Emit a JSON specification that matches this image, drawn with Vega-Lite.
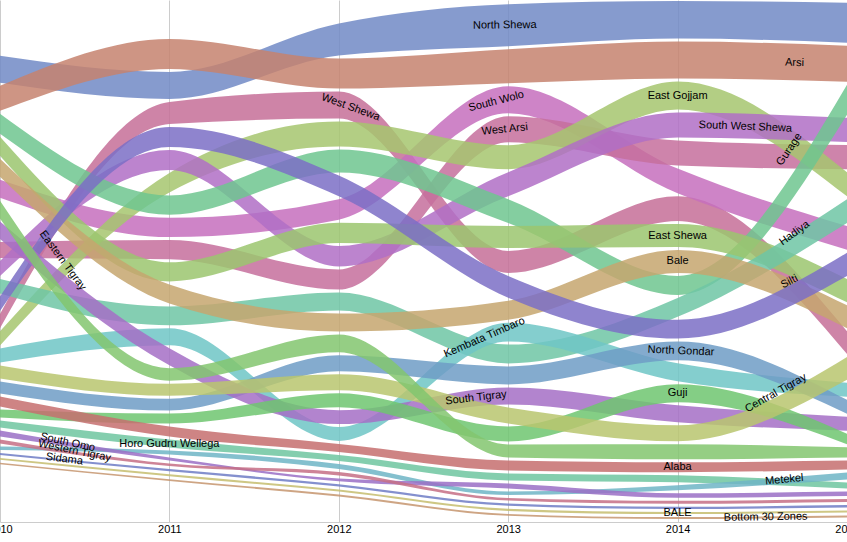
{
  "$schema": "https://vega.github.io/schema/vega-lite/v6.json",
  "width": 847,
  "height": 522,
  "autosize": {"type": "none"},
  "padding": {"left": 0, "top": 0, "right": 0, "bottom": 20},
  "background": "white",
  "config": {"view": {"stroke": null}, "font": "Liberation Sans"},
  "datasets": {
    "zones": [
      {"zone": "North Shewa", "year": 2010, "value": 27}, {"zone": "North Shewa", "year": 2011, "value": 27}, {"zone": "North Shewa", "year": 2012, "value": 32}, {"zone": "North Shewa", "year": 2013, "value": 42}, {"zone": "North Shewa", "year": 2014, "value": 37.5}, {"zone": "North Shewa", "year": 2015, "value": 40},
      {"zone": "Arsi", "year": 2010, "value": 25}, {"zone": "Arsi", "year": 2011, "value": 30}, {"zone": "Arsi", "year": 2012, "value": 30}, {"zone": "Arsi", "year": 2013, "value": 34}, {"zone": "Arsi", "year": 2014, "value": 37}, {"zone": "Arsi", "year": 2015, "value": 36},
      {"zone": "West Shewa", "year": 2010, "value": 14.3}, {"zone": "West Shewa", "year": 2011, "value": 22}, {"zone": "West Shewa", "year": 2012, "value": 27}, {"zone": "West Shewa", "year": 2013, "value": 21.9}, {"zone": "West Shewa", "year": 2014, "value": 24.7}, {"zone": "West Shewa", "year": 2015, "value": 22.8},
      {"zone": "South Wolo", "year": 2010, "value": 17.9}, {"zone": "South Wolo", "year": 2011, "value": 19.3}, {"zone": "South Wolo", "year": 2012, "value": 20.5}, {"zone": "South Wolo", "year": 2013, "value": 27}, {"zone": "South Wolo", "year": 2014, "value": 24.8}, {"zone": "South Wolo", "year": 2015, "value": 23.6},
      {"zone": "West Arsi", "year": 2010, "value": 16}, {"zone": "West Arsi", "year": 2011, "value": 19.2}, {"zone": "West Arsi", "year": 2012, "value": 20.2}, {"zone": "West Arsi", "year": 2013, "value": 26}, {"zone": "West Arsi", "year": 2014, "value": 24.9}, {"zone": "West Arsi", "year": 2015, "value": 24.2},
      {"zone": "East Gojjam", "year": 2010, "value": 14.2}, {"zone": "East Gojjam", "year": 2011, "value": 19.5}, {"zone": "East Gojjam", "year": 2012, "value": 25}, {"zone": "East Gojjam", "year": 2013, "value": 24}, {"zone": "East Gojjam", "year": 2014, "value": 28}, {"zone": "East Gojjam", "year": 2015, "value": 24},
      {"zone": "South West Shewa", "year": 2010, "value": 15}, {"zone": "South West Shewa", "year": 2011, "value": 19.9}, {"zone": "South West Shewa", "year": 2012, "value": 20.3}, {"zone": "South West Shewa", "year": 2013, "value": 23.9}, {"zone": "South West Shewa", "year": 2014, "value": 25}, {"zone": "South West Shewa", "year": 2015, "value": 24.4},
      {"zone": "Gurage", "year": 2010, "value": 20}, {"zone": "Gurage", "year": 2011, "value": 19.4}, {"zone": "Gurage", "year": 2012, "value": 23}, {"zone": "Gurage", "year": 2013, "value": 23.8}, {"zone": "Gurage", "year": 2014, "value": 19}, {"zone": "Gurage", "year": 2015, "value": 30},
      {"zone": "East Shewa", "year": 2010, "value": 19}, {"zone": "East Shewa", "year": 2011, "value": 19.1}, {"zone": "East Shewa", "year": 2012, "value": 20.4}, {"zone": "East Shewa", "year": 2013, "value": 22}, {"zone": "East Shewa", "year": 2014, "value": 23}, {"zone": "East Shewa", "year": 2015, "value": 23.2},
      {"zone": "Hadiya", "year": 2010, "value": 14.5}, {"zone": "Hadiya", "year": 2011, "value": 18.9}, {"zone": "Hadiya", "year": 2012, "value": 18}, {"zone": "Hadiya", "year": 2013, "value": 18.8}, {"zone": "Hadiya", "year": 2014, "value": 18.9}, {"zone": "Hadiya", "year": 2015, "value": 23.8},
      {"zone": "Bale", "year": 2010, "value": 18}, {"zone": "Bale", "year": 2011, "value": 19}, {"zone": "Bale", "year": 2012, "value": 17.9}, {"zone": "Bale", "year": 2013, "value": 19}, {"zone": "Bale", "year": 2014, "value": 22.9}, {"zone": "Bale", "year": 2015, "value": 23},
      {"zone": "Silti", "year": 2010, "value": 14.4}, {"zone": "Silti", "year": 2011, "value": 20}, {"zone": "Silti", "year": 2012, "value": 20.6}, {"zone": "Silti", "year": 2013, "value": 21.8}, {"zone": "Silti", "year": 2014, "value": 18.8}, {"zone": "Silti", "year": 2015, "value": 23.4},
      {"zone": "Kembata Timbaro", "year": 2010, "value": 14}, {"zone": "Kembata Timbaro", "year": 2011, "value": 17}, {"zone": "Kembata Timbaro", "year": 2012, "value": 13.8}, {"zone": "Kembata Timbaro", "year": 2013, "value": 18.9}, {"zone": "Kembata Timbaro", "year": 2014, "value": 18}, {"zone": "Kembata Timbaro", "year": 2015, "value": 14.1},
      {"zone": "North Gondar", "year": 2010, "value": 12}, {"zone": "North Gondar", "year": 2011, "value": 11.9}, {"zone": "North Gondar", "year": 2012, "value": 16}, {"zone": "North Gondar", "year": 2013, "value": 18}, {"zone": "North Gondar", "year": 2014, "value": 18.7}, {"zone": "North Gondar", "year": 2015, "value": 14},
      {"zone": "South Tigray", "year": 2010, "value": 17.5}, {"zone": "South Tigray", "year": 2011, "value": 16.9}, {"zone": "South Tigray", "year": 2012, "value": 13.9}, {"zone": "South Tigray", "year": 2013, "value": 17}, {"zone": "South Tigray", "year": 2014, "value": 17}, {"zone": "South Tigray", "year": 2015, "value": 13.9},
      {"zone": "Guji", "year": 2010, "value": 8}, {"zone": "Guji", "year": 2011, "value": 10}, {"zone": "Guji", "year": 2012, "value": 14}, {"zone": "Guji", "year": 2013, "value": 15}, {"zone": "Guji", "year": 2014, "value": 17.9}, {"zone": "Guji", "year": 2015, "value": 10.5},
      {"zone": "Central Tigray", "year": 2010, "value": 13}, {"zone": "Central Tigray", "year": 2011, "value": 12}, {"zone": "Central Tigray", "year": 2012, "value": 15.9}, {"zone": "Central Tigray", "year": 2013, "value": 16}, {"zone": "Central Tigray", "year": 2014, "value": 16}, {"zone": "Central Tigray", "year": 2015, "value": 22.6},
      {"zone": "Eastern Tigray", "year": 2010, "value": 17.8}, {"zone": "Eastern Tigray", "year": 2011, "value": 12.5}, {"zone": "Eastern Tigray", "year": 2012, "value": 17.8}, {"zone": "Eastern Tigray", "year": 2013, "value": 13}, {"zone": "Eastern Tigray", "year": 2014, "value": 15}, {"zone": "Eastern Tigray", "year": 2015, "value": 10.4},
      {"zone": "Alaba", "year": 2010, "value": 10}, {"zone": "Alaba", "year": 2011, "value": 9.9}, {"zone": "Alaba", "year": 2012, "value": 8}, {"zone": "Alaba", "year": 2013, "value": 10}, {"zone": "Alaba", "year": 2014, "value": 10}, {"zone": "Alaba", "year": 2015, "value": 9},
      {"zone": "Horo Gudru Wellega", "year": 2010, "value": 7}, {"zone": "Horo Gudru Wellega", "year": 2011, "value": 8}, {"zone": "Horo Gudru Wellega", "year": 2012, "value": 6}, {"zone": "Horo Gudru Wellega", "year": 2013, "value": 7}, {"zone": "Horo Gudru Wellega", "year": 2014, "value": 7}, {"zone": "Horo Gudru Wellega", "year": 2015, "value": 6},
      {"zone": "Metekel", "year": 2010, "value": 3.5}, {"zone": "Metekel", "year": 2011, "value": 4}, {"zone": "Metekel", "year": 2012, "value": 5}, {"zone": "Metekel", "year": 2013, "value": 3.5}, {"zone": "Metekel", "year": 2014, "value": 5}, {"zone": "Metekel", "year": 2015, "value": 7},
      {"zone": "South Omo", "year": 2010, "value": 6}, {"zone": "South Omo", "year": 2011, "value": 3}, {"zone": "South Omo", "year": 2012, "value": 2.8}, {"zone": "South Omo", "year": 2013, "value": 5}, {"zone": "South Omo", "year": 2014, "value": 4.5}, {"zone": "South Omo", "year": 2015, "value": 4.5},
      {"zone": "Western Tigray", "year": 2010, "value": 4}, {"zone": "Western Tigray", "year": 2011, "value": 2.6}, {"zone": "Western Tigray", "year": 2012, "value": 3.5}, {"zone": "Western Tigray", "year": 2013, "value": 2.6}, {"zone": "Western Tigray", "year": 2014, "value": 3}, {"zone": "Western Tigray", "year": 2015, "value": 3},
      {"zone": "Sidama", "year": 2010, "value": 2}, {"zone": "Sidama", "year": 2011, "value": 2.2}, {"zone": "Sidama", "year": 2012, "value": 2.3}, {"zone": "Sidama", "year": 2013, "value": 2.3}, {"zone": "Sidama", "year": 2014, "value": 2.3}, {"zone": "Sidama", "year": 2015, "value": 2.3},
      {"zone": "BALE", "year": 2010, "value": 1.8}, {"zone": "BALE", "year": 2011, "value": 2}, {"zone": "BALE", "year": 2012, "value": 2.1}, {"zone": "BALE", "year": 2013, "value": 2.1}, {"zone": "BALE", "year": 2014, "value": 2.1}, {"zone": "BALE", "year": 2015, "value": 2.1},
      {"zone": "Bottom 30 Zones", "year": 2010, "value": 1.6}, {"zone": "Bottom 30 Zones", "year": 2011, "value": 1.8}, {"zone": "Bottom 30 Zones", "year": 2012, "value": 1.9}, {"zone": "Bottom 30 Zones", "year": 2013, "value": 1.9}, {"zone": "Bottom 30 Zones", "year": 2014, "value": 1.9}, {"zone": "Bottom 30 Zones", "year": 2015, "value": 1.9}
    ],
    "labels": [
      {"zone": "North Shewa", "label": "North Shewa", "at": 2012.98},
      {"zone": "Arsi", "label": "Arsi", "at": 2014.69},
      {"zone": "West Shewa", "label": "West Shewa", "at": 2012.07},
      {"zone": "South Wolo", "label": "South Wolo", "at": 2012.93},
      {"zone": "West Arsi", "label": "West Arsi", "at": 2012.98},
      {"zone": "East Gojjam", "label": "East Gojjam", "at": 2014.0},
      {"zone": "South West Shewa", "label": "South West Shewa", "at": 2014.4},
      {"zone": "Gurage", "label": "Gurage", "at": 2014.66},
      {"zone": "Eastern Tigray", "label": "Eastern Tigray", "at": 2010.37},
      {"zone": "East Shewa", "label": "East Shewa", "at": 2014.0},
      {"zone": "Hadiya", "label": "Hadiya", "at": 2014.69},
      {"zone": "Bale", "label": "Bale", "at": 2014.0},
      {"zone": "Silti", "label": "Silti", "at": 2014.66},
      {"zone": "Kembata Timbaro", "label": "Kembata Timbaro", "at": 2012.86},
      {"zone": "North Gondar", "label": "North Gondar", "at": 2014.02},
      {"zone": "South Tigray", "label": "South Tigray", "at": 2012.81},
      {"zone": "Guji", "label": "Guji", "at": 2014.0},
      {"zone": "Central Tigray", "label": "Central Tigray", "at": 2014.58},
      {"zone": "Horo Gudru Wellega", "label": "Horo Gudru Wellega", "at": 2011.0},
      {"zone": "South Omo", "label": "South Omo", "at": 2010.4},
      {"zone": "Western Tigray", "label": "Western Tigray", "at": 2010.44},
      {"zone": "Sidama", "label": "Sidama", "at": 2010.38},
      {"zone": "Alaba", "label": "Alaba", "at": 2014.0},
      {"zone": "Metekel", "label": "Metekel", "at": 2014.63},
      {"zone": "BALE", "label": "BALE", "at": 2014.0},
      {"zone": "Bottom 30 Zones", "label": "Bottom 30 Zones", "at": 2014.52}
    ]
  },
  "data": {"name": "zones"},
  "transform": [
    {"calculate": "datum.value + 3", "as": "padded"},
    {"stack": "padded", "groupby": ["year"], "sort": [{"field": "value", "order": "ascending"}], "offset": "center", "as": ["s0", "s1"]},
    {"calculate": "datum.s0 + 1.5", "as": "lo"},
    {"calculate": "datum.s1 - 1.5", "as": "hi"},
    {"calculate": "(datum.s0 + datum.s1) / 2", "as": "mid"}
  ],
  "layer": [
    {
      "mark": {"type": "area", "interpolate": "monotone", "fillOpacity": 0.85},
      "encoding": {
        "x": {
          "field": "year", "type": "quantitative",
          "scale": {"domain": [2010, 2015], "nice": false, "zero": false},
          "axis": {"values": [2010, 2011, 2012, 2013, 2014, 2015], "format": "d", "title": null, "grid": true, "gridColor": "#cccccc", "domainColor": "#cccccc", "ticks": false, "labelPadding": 1, "labelFontSize": 11, "labelColor": "#000000", "labelFlush": false, "labelOverlap": false, "labelFont": "Liberation Sans"}
        },
        "y": {"field": "lo", "type": "quantitative", "scale": {"domain": [-1.5, 520.5], "nice": false, "zero": false}, "axis": null},
        "y2": {"field": "hi"},
        "color": {
          "field": "zone", "type": "nominal", "legend": null,
          "scale": {
            "domain": ["Bottom 30 Zones", "BALE", "Sidama", "Western Tigray", "South Omo", "Metekel", "Horo Gudru Wellega", "Alaba", "Guji", "Eastern Tigray", "Central Tigray", "North Gondar", "South Tigray", "Kembata Timbaro", "Hadiya", "Bale", "East Shewa", "Silti", "Gurage", "East Gojjam", "South West Shewa", "West Arsi", "South Wolo", "West Shewa", "Arsi", "North Shewa"],
            "range": ["#c6956f", "#c6bd6f", "#6f7dc6", "#c66f85", "#9a6fc6", "#6fb5c6", "#6fc6a0", "#c66f6f", "#6fc670", "#82c66f", "#b8c66f", "#6f9cc6", "#a56fc6", "#6fc6c6", "#6fc6a5", "#c6a66f", "#9bc66f", "#7b6fc6", "#6fc68f", "#a6c66f", "#b06fc6", "#c66f9c", "#c66fbd", "#c66f98", "#c5826f", "#7189c6"]
          }
        }
      }
    },
    {
      "transform": [
        {"window": [{"op": "lead", "field": "mid", "as": "nextMid"}], "groupby": ["zone"], "sort": [{"field": "year", "order": "ascending"}]},
        {"lookup": "zone", "from": {"data": {"name": "labels"}, "key": "zone", "fields": ["label", "at"]}},
        {"filter": "datum.at != null && datum.year == floor(datum.at + 0.000001)"},
        {"calculate": "datum.at - datum.year", "as": "t"},
        {"calculate": "datum.nextMid == null ? datum.mid : datum.nextMid", "as": "nm"},
        {"calculate": "datum.mid + (datum.nm - datum.mid) * datum.t * datum.t * (3 - 2 * datum.t)", "as": "ly"},
        {"calculate": "-atan2((datum.nm - datum.mid) * 6 * datum.t * (1 - datum.t), 169.4) * 180 / PI", "as": "ang"}
      ],
      "mark": {"type": "text", "fontSize": 11, "color": "#000000", "font": "Liberation Sans", "align": "center", "baseline": "middle"},
      "encoding": {
        "x": {"field": "at", "type": "quantitative"},
        "y": {"field": "ly", "type": "quantitative"},
        "text": {"field": "label"},
        "angle": {"field": "ang", "type": "quantitative", "scale": null}
      }
    }
  ]
}
